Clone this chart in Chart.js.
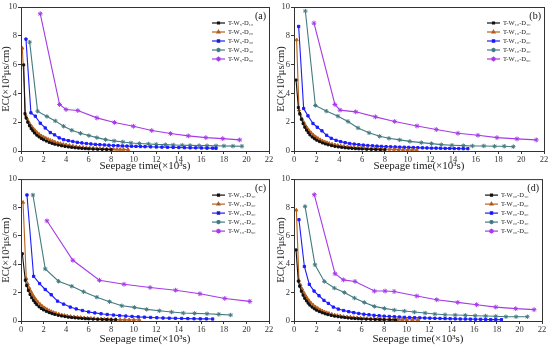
<!DOCTYPE html>
<html>
<head>
<meta charset="utf-8">
<script src="https://cdn.jsdelivr.net/npm/chart.js@4/dist/chart.umd.min.js"></script>
<style>
    body { margin: 0; background: #fff; }
    #wrap { position: relative; width: 550px; height: 346px; }
    #wrap canvas { position: absolute; }
</style>
</head>
<body>
<div id="wrap">
    <canvas id="chartA" width="275" height="173" style="left:0;top:0"></canvas>
    <canvas id="chartB" width="275" height="173" style="left:275px;top:0"></canvas>
    <canvas id="chartC" width="275" height="173" style="left:0;top:173px"></canvas>
    <canvas id="chartD" width="275" height="173" style="left:275px;top:173px"></canvas>
</div>
<script>
// Axis ticks
const xTicks = [0, 2, 4, 6, 8, 10, 12, 14, 16, 18, 20, 22];
const yTicks = [0, 2, 4, 6, 8, 10];

// Legend names per panel
const namesA = ['T-W₅-D₁₀', 'T-W₅-D₂₀', 'T-W₅-D₃₀', 'T-W₅-D₄₀', 'T-W₅-D₅₀'];
const namesB = ['T-W₁₀-D₁₀', 'T-W₁₀-D₂₀', 'T-W₁₀-D₃₀', 'T-W₁₀-D₄₀', 'T-W₁₀-D₅₀'];
const namesC = ['T-W₁₅-D₁₀', 'T-W₁₅-D₂₀', 'T-W₁₅-D₃₀', 'T-W₁₅-D₄₀', 'T-W₁₅-D₅₀'];
const namesD = ['T-W₂₀-D₁₀', 'T-W₂₀-D₂₀', 'T-W₂₀-D₃₀', 'T-W₂₀-D₄₀', 'T-W₂₀-D₅₀'];

// Panel (a) data [time, EC]
const a1 = [[0.24,5.98],[0.35,2.6],[0.45,2.3],[0.6,2.0],[0.75,1.75],[0.9,1.55],[1.05,1.4],[1.2,1.25],[1.4,1.1],[1.6,0.98],[1.8,0.87],[2.0,0.78],[2.25,0.69],[2.5,0.6],[2.75,0.53],[3.0,0.47],[3.3,0.41],[3.6,0.36],[3.9,0.32],[4.2,0.28],[4.5,0.25],[4.8,0.22],[5.1,0.2],[5.4,0.18],[5.7,0.16],[6.0,0.15],[6.4,0.13],[6.8,0.12],[7.2,0.11],[7.6,0.1],[8.0,0.09]];
const a2 = [[0.12,7.14],[0.41,2.49],[0.53,2.26],[0.65,2.05],[0.8,1.85],[0.95,1.7],[1.1,1.55],[1.25,1.42],[1.4,1.3],[1.6,1.17],[1.8,1.06],[2.0,0.97],[2.2,0.89],[2.4,0.82],[2.6,0.75],[2.8,0.69],[3.0,0.63],[3.25,0.57],[3.5,0.52],[3.75,0.47],[4.0,0.43],[4.3,0.39],[4.6,0.35],[4.9,0.31],[5.2,0.28],[5.5,0.26],[5.8,0.23],[6.1,0.21],[6.4,0.2],[6.7,0.18],[7.0,0.17],[7.3,0.16],[7.6,0.15],[7.9,0.14],[8.2,0.13],[8.5,0.12],[8.8,0.11],[9.1,0.11],[9.5,0.1]];
const a3 = [[0.44,7.77],[0.88,2.65],[1.27,2.42],[1.71,1.93],[2.15,1.6],[2.6,1.28],[2.98,1.12],[3.39,0.91],[3.78,0.79],[4.2,0.72],[4.6,0.66],[5.0,0.6],[5.4,0.56],[5.8,0.52],[6.2,0.49],[6.6,0.46],[7.0,0.44],[7.4,0.42],[7.8,0.4],[8.2,0.38],[8.6,0.37],[9.0,0.35],[9.4,0.34],[9.8,0.33],[10.2,0.32],[10.6,0.31],[11.0,0.3],[11.5,0.29],[12.0,0.28],[12.5,0.27],[13.0,0.26],[13.5,0.25],[14.0,0.24],[14.5,0.23],[15.0,0.22],[15.5,0.22],[16.0,0.21],[16.5,0.2],[17.0,0.2],[17.3,0.19]];
const a4 = [[0.77,7.56],[1.47,2.77],[2.3,2.4],[3.04,2.09],[3.78,1.72],[4.51,1.44],[5.28,1.23],[6.02,1.07],[6.73,0.93],[7.5,0.79],[8.26,0.7],[9.03,0.63],[9.76,0.56],[10.5,0.52],[11.3,0.49],[12.0,0.46],[12.8,0.44],[13.5,0.42],[14.3,0.4],[15.0,0.39],[15.8,0.38],[16.5,0.37],[17.3,0.36],[18.0,0.35],[18.8,0.34],[19.6,0.33]];
const a5 = [[1.71,9.53],[3.42,3.23],[4.0,2.88],[5.04,2.81],[6.73,2.3],[8.29,1.98],[9.97,1.72],[11.6,1.42],[13.27,1.21],[14.84,1.05],[16.4,0.93],[17.9,0.86],[19.4,0.77]];

// Panel (b) data
const b1 = [[0.18,4.93],[0.38,3.02],[0.5,2.6],[0.65,2.2],[0.8,1.9],[0.95,1.65],[1.1,1.45],[1.25,1.28],[1.4,1.12],[1.6,0.97],[1.8,0.85],[2.0,0.75],[2.25,0.65],[2.5,0.56],[2.75,0.49],[3.0,0.43],[3.3,0.37],[3.6,0.32],[3.9,0.28],[4.2,0.25],[4.5,0.22],[4.8,0.2],[5.1,0.18],[5.4,0.16],[5.7,0.15],[6.0,0.14],[6.4,0.12],[6.8,0.11],[7.2,0.1],[7.6,0.09],[8.0,0.09]];
const b2 = [[0.23,7.72],[0.44,2.84],[0.55,2.55],[0.7,2.25],[0.85,2.0],[1.0,1.78],[1.15,1.6],[1.3,1.44],[1.5,1.27],[1.7,1.12],[1.9,0.99],[2.1,0.88],[2.3,0.79],[2.5,0.71],[2.7,0.64],[2.9,0.58],[3.1,0.53],[3.35,0.48],[3.6,0.43],[3.85,0.39],[4.1,0.36],[4.4,0.33],[4.7,0.3],[5.0,0.27],[5.3,0.25],[5.6,0.23],[5.9,0.21],[6.2,0.19],[6.5,0.18],[6.8,0.17],[7.1,0.16],[7.4,0.15],[7.7,0.14],[8.0,0.13],[8.4,0.12],[8.8,0.11],[9.2,0.1],[9.6,0.09],[10.0,0.09],[10.4,0.08],[10.8,0.08]];
const b3 = [[0.41,8.65],[0.85,2.95],[1.23,2.44],[1.67,1.91],[2.05,1.65],[2.46,1.4],[2.87,1.09],[3.28,0.88],[3.7,0.74],[4.1,0.65],[4.5,0.58],[4.9,0.52],[5.3,0.48],[5.7,0.44],[6.1,0.41],[6.5,0.38],[6.9,0.36],[7.3,0.34],[7.7,0.32],[8.1,0.3],[8.5,0.29],[8.9,0.28],[9.3,0.27],[9.7,0.26],[10.1,0.25],[10.5,0.24],[10.9,0.23],[11.3,0.22],[11.7,0.21],[12.1,0.2],[12.5,0.2],[12.9,0.19],[13.3,0.18],[13.7,0.18],[14.1,0.17],[14.5,0.17],[14.9,0.16],[15.3,0.16]];
const b4 = [[1.0,9.72],[1.88,3.16],[2.84,2.77],[3.87,2.42],[4.75,2.05],[5.63,1.6],[6.6,1.26],[7.54,1.02],[8.36,0.88],[9.3,0.77],[10.2,0.67],[11.2,0.58],[12.1,0.51],[12.96,0.44],[13.9,0.4],[14.9,0.37],[15.7,0.35],[16.7,0.35],[17.65,0.33],[18.5,0.33],[19.3,0.3]];
const b5 = [[1.76,8.88],[3.6,3.23],[4.05,2.84],[5.43,2.72],[7.16,2.37],[8.86,2.05],[10.82,1.74],[12.52,1.49],[14.43,1.23],[16.19,1.09],[17.86,0.93],[19.62,0.84],[21.32,0.77]];

// Panel (c) data
const c1 = [[0.12,4.74],[0.38,2.87],[0.5,2.5],[0.65,2.15],[0.8,1.87],[0.95,1.64],[1.1,1.45],[1.25,1.29],[1.4,1.15],[1.6,1.0],[1.8,0.88],[2.0,0.78],[2.25,0.68],[2.5,0.59],[2.75,0.52],[3.0,0.46],[3.3,0.4],[3.6,0.35],[3.9,0.31],[4.2,0.27],[4.5,0.24],[4.8,0.22],[5.1,0.2],[5.4,0.18],[5.7,0.16],[6.0,0.15],[6.4,0.13],[6.8,0.12],[7.2,0.11],[7.6,0.1],[8.0,0.09],[8.4,0.09]];
const c2 = [[0.18,8.36],[0.47,2.99],[0.6,2.6],[0.75,2.3],[0.9,2.05],[1.05,1.83],[1.2,1.64],[1.35,1.47],[1.5,1.33],[1.7,1.17],[1.9,1.03],[2.1,0.92],[2.3,0.82],[2.5,0.74],[2.7,0.67],[2.9,0.6],[3.1,0.55],[3.35,0.49],[3.6,0.44],[3.85,0.4],[4.1,0.36],[4.4,0.33],[4.7,0.3],[5.0,0.27],[5.3,0.25],[5.6,0.23],[5.9,0.21],[6.2,0.19],[6.5,0.18],[6.8,0.16],[7.1,0.15],[7.4,0.14],[7.7,0.13],[8.0,0.12],[8.4,0.11],[8.8,0.1],[9.2,0.1],[9.6,0.09],[10.0,0.09],[10.5,0.08]];
const c3 = [[0.53,8.88],[1.12,3.15],[1.65,2.64],[2.15,2.22],[2.68,1.85],[3.24,1.4],[3.78,1.19],[4.37,0.98],[4.9,0.85],[5.45,0.74],[6.0,0.64],[6.55,0.57],[7.1,0.51],[7.65,0.46],[8.2,0.42],[8.75,0.38],[9.3,0.35],[9.85,0.32],[10.4,0.29],[10.95,0.27],[11.5,0.25],[12.05,0.23],[12.6,0.21],[13.15,0.2],[13.7,0.19],[14.25,0.18],[14.8,0.17],[15.35,0.16],[15.9,0.15],[16.45,0.15],[17.0,0.14]];
const c4 = [[1.06,8.88],[2.15,3.67],[3.33,2.8],[4.51,2.45],[5.55,2.06],[6.73,1.68],[7.85,1.36],[8.94,1.07],[10.06,0.96],[11.15,0.82],[12.27,0.72],[13.36,0.63],[14.4,0.56],[15.4,0.54],[16.5,0.51],[17.55,0.47],[18.6,0.42]];
const c5 = [[2.3,7.06],[4.6,4.28],[6.96,2.87],[9.14,2.59],[11.45,2.36],[13.72,2.17],[15.87,1.92],[18.08,1.59],[20.3,1.38]];

// Panel (d) data
const d1 = [[0.18,5.01],[0.38,2.81],[0.5,2.45],[0.65,2.1],[0.8,1.82],[0.95,1.6],[1.1,1.42],[1.25,1.26],[1.4,1.12],[1.6,0.98],[1.8,0.86],[2.0,0.76],[2.25,0.66],[2.5,0.58],[2.75,0.51],[3.0,0.45],[3.3,0.39],[3.6,0.34],[3.9,0.3],[4.2,0.27],[4.5,0.24],[4.8,0.21],[5.1,0.19],[5.4,0.17],[5.7,0.16],[6.0,0.14],[6.4,0.13],[6.8,0.12],[7.2,0.11],[7.6,0.1],[8.0,0.09],[8.5,0.09],[9.0,0.08]];
const d2 = [[0.21,7.82],[0.44,2.86],[0.57,2.55],[0.72,2.25],[0.87,2.0],[1.02,1.79],[1.17,1.6],[1.32,1.44],[1.5,1.28],[1.7,1.13],[1.9,1.0],[2.1,0.9],[2.3,0.8],[2.5,0.72],[2.7,0.65],[2.9,0.59],[3.1,0.54],[3.35,0.48],[3.6,0.43],[3.85,0.39],[4.1,0.36],[4.4,0.32],[4.7,0.29],[5.0,0.27],[5.3,0.25],[5.6,0.23],[5.9,0.21],[6.2,0.19],[6.5,0.18],[6.8,0.17],[7.1,0.16],[7.4,0.15],[7.7,0.14],[8.0,0.13],[8.4,0.12],[8.8,0.11],[9.2,0.1],[9.6,0.1],[10.0,0.09],[10.5,0.09],[11.0,0.08]];
const d3 = [[0.44,7.14],[0.92,3.84],[1.36,2.58],[1.78,2.11],[2.22,1.78],[2.66,1.45],[3.05,1.24],[3.49,0.98],[3.93,0.84],[4.4,0.74],[4.85,0.66],[5.3,0.59],[5.75,0.53],[6.2,0.48],[6.65,0.44],[7.1,0.4],[7.55,0.37],[8.0,0.34],[8.45,0.32],[8.9,0.3],[9.35,0.28],[9.8,0.26],[10.25,0.25],[10.7,0.23],[11.15,0.22],[11.6,0.21],[12.05,0.2],[12.5,0.19],[12.95,0.18],[13.4,0.17],[13.85,0.16],[14.3,0.15],[14.75,0.14],[15.2,0.14],[15.65,0.13],[16.1,0.12],[16.55,0.12],[17.0,0.11],[17.45,0.1],[17.9,0.1],[18.4,0.09]];
const d4 = [[0.98,8.08],[1.86,3.96],[2.69,2.79],[3.58,2.32],[4.47,2.01],[5.36,1.62],[6.24,1.31],[7.13,1.03],[8.02,0.89],[8.9,0.77],[9.79,0.7],[10.68,0.63],[11.63,0.56],[12.5,0.49],[13.4,0.44],[14.3,0.42],[15.2,0.4],[16.07,0.37],[17.0,0.35],[17.9,0.33],[18.8,0.3],[19.7,0.3],[20.7,0.3]];
const d5 = [[1.8,8.9],[3.64,3.33],[4.38,2.9],[5.41,2.79],[7.13,2.11],[8.08,2.11],[8.88,2.08],[10.9,1.76],[12.66,1.5],[14.53,1.31],[16.2,1.15],[17.9,0.98],[19.67,0.87],[21.3,0.8]];

// Series styles
const colors = ['#111111', '#b8611e', '#1c1cff', '#437a80', '#a63ae8'];
const markers = ['rect', 'triangle', 'rect', 'star', 'star'];
const markerSize = [1.4, 1.8, 1.6, 2.2, 2.4];

const serif = 'Liberation Serif, Times New Roman, serif';

// Frame, legend and panel tag, drawn inside the plot area
const framePlugin = {
    id: 'frame',
    afterDatasetsDraw(chart, args, opts) {
        const { ctx, chartArea: a } = chart;
        ctx.save();
        ctx.strokeStyle = '#333';
        ctx.lineWidth = 1;
        ctx.strokeRect(a.left + 0.5, a.top + 0.5, a.right - a.left, a.bottom - a.top);

        ctx.fillStyle = '#111';
        ctx.font = '10px ' + serif;
        ctx.textAlign = 'right';
        ctx.textBaseline = 'middle';
        ctx.fillText(opts.tag, a.right - 3, a.top + 9);

        ctx.font = '6.5px ' + serif;
        ctx.textAlign = 'left';
        chart.data.datasets.forEach((ds, i) => {
            const y = a.top + 16 + i * 9;
            const x0 = a.right - 57;
            ctx.strokeStyle = ds.borderColor;
            ctx.lineWidth = 1.2;
            ctx.beginPath();
            ctx.moveTo(x0, y);
            ctx.lineTo(x0 + 13, y);
            ctx.stroke();
            Chart.helpers.drawPoint(ctx, {
                pointStyle: ds.pointStyle, radius: ds.pointRadius, borderWidth: 1
            }, x0 + 6.5, y);
            ctx.fillStyle = '#222';
            ctx.fillText(ds.label, x0 + 16, y + 0.5);
        });
        ctx.restore();
    }
};

function makePanel(id, tag, names, series, box) {
    const datasets = series.map((pts, i) => ({
        label: names[i],
        data: pts.map(p => ({ x: p[0], y: p[1] })),
        borderColor: colors[i],
        backgroundColor: colors[i],
        borderWidth: 1.1,
        pointStyle: markers[i],
        pointRadius: markerSize[i],
        pointBorderWidth: 1,
        tension: 0
    }));

    new Chart(document.getElementById(id), {
        type: 'line',
        data: { datasets },
        plugins: [framePlugin],
        options: {
            responsive: false,
            animation: false,
            devicePixelRatio: 1,
            layout: { padding: { top: box.top, right: box.right, left: 0, bottom: 0 } },
            plugins: {
                legend: { display: false },
                tooltip: { enabled: false },
                frame: { tag }
            },
            scales: {
                x: {
                    type: 'linear',
                    min: 0,
                    max: 22,
                    afterBuildTicks: s => { s.ticks = xTicks.map(v => ({ value: v })); },
                    afterFit: s => { s.height = box.bottom; },
                    grid: { drawOnChartArea: false, tickLength: 3, color: '#333' },
                    border: { color: '#333' },
                    ticks: { font: { family: serif, size: 8.5 }, color: '#333', padding: 1, maxRotation: 0 },
                    title: {
                        display: true,
                        text: 'Seepage time(×10³s)',
                        font: { family: serif, size: 11 },
                        color: '#222',
                        padding: { top: 0, bottom: 0 }
                    }
                },
                y: {
                    type: 'linear',
                    min: 0,
                    max: 10,
                    afterBuildTicks: s => { s.ticks = yTicks.map(v => ({ value: v })); },
                    afterFit: s => { s.width = box.left; },
                    grid: { drawOnChartArea: false, tickLength: 3, color: '#333' },
                    border: { color: '#333' },
                    ticks: { font: { family: serif, size: 8.5 }, color: '#333', padding: 1 },
                    title: {
                        display: true,
                        text: 'EC(×10³μs/cm)',
                        font: { family: serif, size: 10.5 },
                        color: '#222',
                        padding: { top: 0, bottom: 0 }
                    }
                }
            }
        }
    });
}

makePanel('chartA', '(a)', namesA, [a1, a2, a3, a4, a5], { left: 21, right: 6, top: 7, bottom: 22 });
makePanel('chartB', '(b)', namesB, [b1, b2, b3, b4, b5], { left: 19, right: 6, top: 7, bottom: 22 });
makePanel('chartC', '(c)', namesC, [c1, c2, c3, c4, c5], { left: 21, right: 6, top: 5, bottom: 25 });
makePanel('chartD', '(d)', namesD, [d1, d2, d3, d4, d5], { left: 19, right: 8, top: 5, bottom: 25 });
</script>
</body>
</html>
